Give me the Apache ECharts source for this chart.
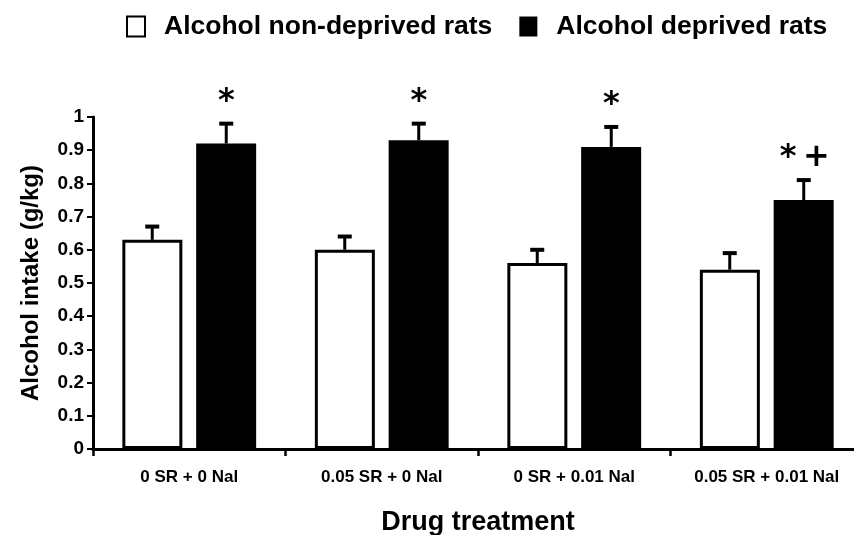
<!DOCTYPE html>
<html>
<head>
<meta charset="utf-8">
<script src="https://cdn.jsdelivr.net/npm/echarts@6/dist/echarts.min.js"></script>
<style>
  html, body { margin: 0; padding: 0; background: #fff; }
  #chart { width: 854px; height: 535px; }
</style>
</head>
<body>
<div id="chart"></div>
<script>
// 数据
var categories = ['0 SR + 0 Nal', '0.05 SR + 0 Nal', '0 SR + 0.01 Nal', '0.05 SR + 0.01 Nal'];
var nonDeprived = [0.63, 0.60, 0.56, 0.54];
var nonDeprivedErr = [0.67, 0.64, 0.60, 0.59];   // 误差线顶端
var deprived = [0.92, 0.93, 0.91, 0.75];
var deprivedErr = [0.98, 0.98, 0.97, 0.81];
var marks = ['*', '*', '*', '*\u2009+'];
var yTicks = [0, 0.1, 0.2, 0.3, 0.4, 0.5, 0.6, 0.7, 0.8, 0.9, 1];

var myChart = echarts.init(document.getElementById('chart'));

var barW = 60, offset = 37;

// 误差线
function errorItem(side) {
  return function (params, api) {
    var c = api.coord([api.value(0), api.value(1)]);
    var top = api.coord([api.value(0), api.value(2)]);
    var x = c[0] + side * offset;
    var st = { stroke: '#000', lineWidth: 3 };
    return {
      type: 'group',
      children: [
        { type: 'line', shape: { x1: x, y1: c[1], x2: x, y2: top[1] }, style: st },
        { type: 'line', shape: { x1: x - 7, y1: top[1], x2: x + 7, y2: top[1] }, style: { stroke: '#000', lineWidth: 4 } }
      ]
    };
  };
}

var option = {
  animation: false,
  grid: { left: 93, top: 117, bottom: 86, width: 770, outerBoundsMode: 'none', containLabel: false },
  legend: {
    left: 121,
    top: 8,
    itemWidth: 18,
    itemHeight: 20,
    itemGap: 27,
    icon: 'rect',
    data: ['Alcohol non-deprived rats', 'Alcohol deprived rats'],
    textStyle: {
      fontFamily: 'Liberation Sans, Arial, sans-serif',
      fontWeight: 'bold',
      fontSize: 26.5,
      color: '#000',
      padding: [0, 0, 0, 14]
    }
  },
  xAxis: {
    type: 'category',
    data: categories,
    name: 'Drug treatment',
    nameLocation: 'middle',
    nameGap: 60,
    nameTextStyle: {
      fontFamily: 'Liberation Sans, Arial',
      fontWeight: 'bold',
      fontSize: 27,
      color: '#000'
    },
    axisLine: { lineStyle: { color: '#000', width: 3 } },
    axisTick: { show: true, interval: 0, length: 7, lineStyle: { color: '#000', width: 2.5 } },
    axisLabel: {
      interval: 0,
      margin: 20,
      fontFamily: 'Liberation Sans, Arial',
      fontWeight: 'bold',
      fontSize: 17,
      color: '#000'
    }
  },
  yAxis: {
    type: 'value',
    min: 0,
    max: 1,
    interval: 0.1,
    name: 'Alcohol intake (g/kg)',
    nameLocation: 'middle',
    nameGap: 50,
    nameTextStyle: {
      fontFamily: 'Liberation Sans, Arial',
      fontWeight: 'bold',
      fontSize: 24,
      color: '#000'
    },
    axisLine: { show: true, lineStyle: { color: '#000', width: 3 } },
    axisTick: { show: true, length: 6, lineStyle: { color: '#000', width: 2 } },
    splitLine: { show: false },
    axisLabel: {
      margin: 9,
      fontFamily: 'Liberation Sans, Arial',
      fontWeight: 'bold',
      fontSize: 19,
      color: '#000',
      formatter: function (v) {
        return yTicks.indexOf(Math.round(v * 10) / 10) >= 0 ? String(Math.round(v * 10) / 10) : '';
      }
    }
  },
  series: [
    {
      name: 'Alcohol non-deprived rats',
      type: 'bar',
      barWidth: barW,
      barGap: '23%',
      data: nonDeprived,
      itemStyle: { color: '#fff', borderColor: '#000', borderWidth: 3 }
    },
    {
      name: 'Alcohol deprived rats',
      type: 'bar',
      barWidth: barW,
      data: deprived,
      itemStyle: { color: '#000', borderColor: '#000', borderWidth: 0 }
    },
    {
      type: 'custom',
      renderItem: errorItem(-1),
      data: nonDeprived.map(function (v, i) { return [i, v, nonDeprivedErr[i]]; }),
      z: 3
    },
    {
      type: 'custom',
      renderItem: errorItem(1),
      data: deprived.map(function (v, i) { return [i, v, deprivedErr[i]]; }),
      z: 3
    },
    {
      // 显著性标记
      type: 'custom',
      renderItem: function (params, api) {
        var idx = api.value(0);
        var p = api.coord([idx, api.value(1)]);
        var txt = marks[idx];
        return {
          type: 'text',
          style: {
            text: txt,
            x: p[0] + offset + (txt.length > 1 ? 1 : 0),
            y: p[1] - 6,
            align: 'center',
            verticalAlign: 'bottom',
            font: 'bold 32px "DejaVu Sans"',
            fill: '#000'
          }
        };
      },
      data: deprivedErr.map(function (v, i) { return [i, v]; }),
      z: 4
    }
  ]
};

myChart.setOption(option);
</script>
</body>
</html>
